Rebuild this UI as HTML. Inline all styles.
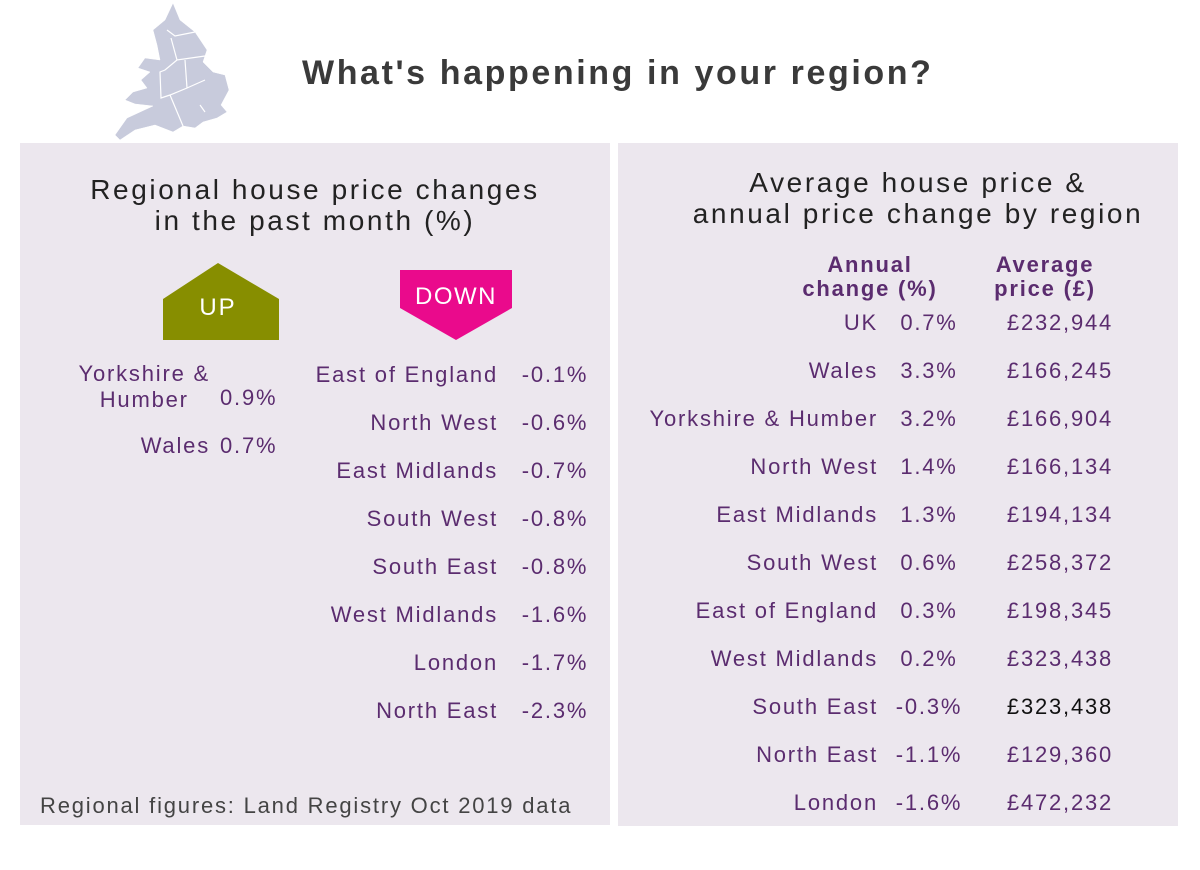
<!DOCTYPE html>
<html><head><meta charset="utf-8"><style>
body{margin:0;width:1200px;height:870px;background:#fff;position:relative;font-family:"Liberation Sans",sans-serif;overflow:hidden}
.a{position:absolute;white-space:nowrap}
.p{color:#5b2c6f;font-size:22px;line-height:26px;letter-spacing:1.8px}
.r{text-align:right}
.c{text-align:center}
.panel{position:absolute;background:#ece7ee}
</style></head><body>
<svg class="a" style="left:105px;top:0" width="130" height="145" viewBox="0 0 130 145">
<path d="M68 3 L75 20 L90 32 L102 50 L98 62 L108 72 L120 75 L124 90 L116 105 L122 112 L112 118 L98 122 L90 128 L78 126 L68 132 L50 125 L30 130 L15 140 L10 135 L22 118 L35 112 L48 106 L30 104 L20 100 L28 92 L42 88 L36 80 L45 72 L33 68 L40 58 L55 60 L52 45 L48 30 L60 20 Z" fill="#c8cbdc" stroke="#fff" stroke-width="0.5"/>
<path d="M62 30 L70 36 L90 32 M66 38 L72 60 L100 56 M72 60 L60 70 L55 72 L56 98 L65 95 L82 88 L80 60 M82 88 L100 80 M65 95 L78 126 M95 105 L100 112" fill="none" stroke="#fff" stroke-width="1.2"/>
</svg>
<div class="a" style="left:302px;top:54px;font-size:34px;font-weight:bold;color:#3a3a3a;letter-spacing:2.6px">What's happening in your region?</div>
<div class="panel" style="left:20px;top:143px;width:590px;height:682px"></div>
<div class="panel" style="left:618px;top:143px;width:560px;height:683px"></div>
<div class="a c" style="left:20px;width:590px;top:174px;font-size:28px;line-height:31px;color:#222;letter-spacing:2.6px">Regional house price changes<br>in the past month (%)</div>
<div class="a c" style="left:618px;width:600px;top:167px;font-size:28px;line-height:31px;color:#222;letter-spacing:2.6px">Average house price &amp;<br>annual price change by region</div>
<svg class="a" style="left:160px;top:260px" width="360" height="85">
<path d="M3 39 L58 3 L119 39 L119 80 L3 80 Z" fill="#878e00"/>
<text x="58" y="55" font-size="24" fill="#fff" text-anchor="middle" font-family="Liberation Sans" letter-spacing="2">UP</text>
<path d="M240 10 L352 10 L352 48 L296 80 L240 48 Z" fill="#ea0a8c"/>
<text x="296" y="44" font-size="24" fill="#fff" text-anchor="middle" font-family="Liberation Sans" letter-spacing="1.5">DOWN</text>
</svg>
<div class="a p" style="right:990px;top:361px;text-align:center">Yorkshire &amp;<br>Humber</div>
<div class="a p" style="left:220px;top:385px">0.9%</div>
<div class="a p r" style="right:990px;top:433px">Wales</div>
<div class="a p" style="left:220px;top:433px">0.7%</div>
<div class="a p r" style="right:702px;top:351px;line-height:48px">East of England<br>North West<br>East Midlands<br>South West<br>South East<br>West Midlands<br>London<br>North East</div>
<div class="a p c" style="left:514px;width:82px;top:351px;line-height:48px">-0.1%<br>-0.6%<br>-0.7%<br>-0.8%<br>-0.8%<br>-1.6%<br>-1.7%<br>-2.3%</div>
<div class="a" style="left:40px;top:793px;font-size:22px;color:#444;letter-spacing:1.8px">Regional figures: Land Registry Oct 2019 data</div>
<div class="a c" style="left:780px;width:180px;top:253px;font-size:22px;line-height:24px;font-weight:bold;color:#5b2c6f;letter-spacing:1.8px">Annual<br>change (%)</div>
<div class="a c" style="left:970px;width:150px;top:253px;font-size:22px;line-height:24px;font-weight:bold;color:#5b2c6f;letter-spacing:1.8px">Average<br>price (£)</div>
<div class="a p r" style="right:322px;top:299px;line-height:48px">UK<br>Wales<br>Yorkshire &amp; Humber<br>North West<br>East Midlands<br>South West<br>East of England<br>West Midlands<br>South East<br>North East<br>London</div>
<div class="a p c" style="left:886px;width:86px;top:299px;line-height:48px">0.7%<br>3.3%<br>3.2%<br>1.4%<br>1.3%<br>0.6%<br>0.3%<br>0.2%<br>-0.3%<br>-1.1%<br>-1.6%</div>
<div class="a p c" style="left:990px;width:140px;top:299px;line-height:48px">£232,944<br>£166,245<br>£166,904<br>£166,134<br>£194,134<br>£258,372<br>£198,345<br>£323,438<br><span style="color:#111">£323,438</span><br>£129,360<br>£472,232</div>
</body></html>
